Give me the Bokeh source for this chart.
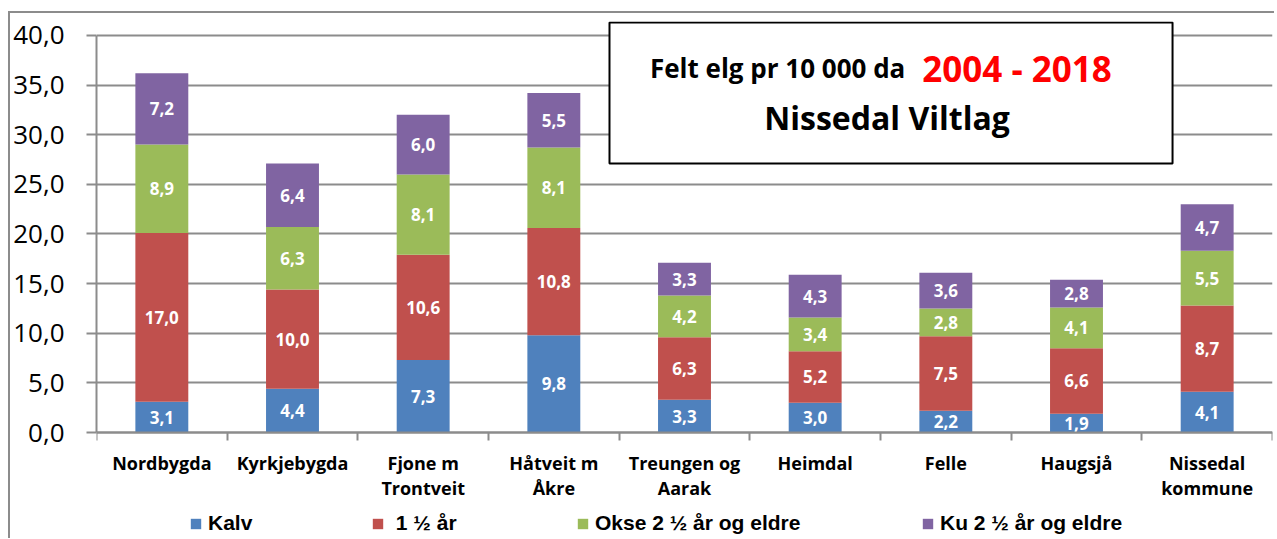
from bokeh.plotting import figure
from bokeh.models import (ColumnDataSource, FixedTicker, Legend, LegendItem,
                          BoxAnnotation, Label, Range1d)
from bokeh.core.properties import value
from bokeh.embed import file_html
from bokeh.resources import INLINE

areas = ["Nordbygda", "Kyrkjebygda", "Fjone m\nTrontveit", "Håtveit m\nÅkre",
         "Treungen og\nAarak", "Heimdal", "Felle", "Haugsjå", "Nissedal\nkommune"]
kalv = [3.1, 4.4, 7.3, 9.8, 3.3, 3.0, 2.2, 1.9, 4.1]
aar1 = [17.0, 10.0, 10.6, 10.8, 6.3, 5.2, 7.5, 6.6, 8.7]
okse = [8.9, 6.3, 8.1, 8.1, 4.2, 3.4, 2.8, 4.1, 5.5]
ku = [7.2, 6.4, 6.0, 5.5, 3.3, 4.3, 3.6, 2.8, 4.7]
series = [kalv, aar1, okse, ku]
series_names = ["Kalv", " 1 ½ år", "Okse 2 ½ år og eldre", "Ku 2 ½ år og eldre"]
colors = ["#4F81BD", "#C0504D", "#9BBB59", "#8064A2"]
y_ticks = [0, 5, 10, 15, 20, 25, 30, 35, 40]

GRID = "#8c8c8c"
xs = [i + 0.5 for i in range(len(areas))]

# frame spans from above the 40-line down to the legend row; x axis sits at y = 0
p = figure(frame_width=1176, frame_height=517, x_range=Range1d(0, len(areas)),
           y_range=Range1d(-10.67, 41.4),
           output_backend="svg", toolbar_location=None,
           min_border_left=86, min_border_right=2, min_border_top=8, min_border_bottom=0,
           styles={"border-left": f"2px solid {GRID}", "border-top": f"2px solid {GRID}",
                   "margin-top": "11px", "margin-left": "8px"})
p.outline_line_color = None
p.background_fill_color = "white"
p.border_fill_color = "white"

# y axis
p.yaxis.bounds = (0, 40)
p.yaxis.ticker = FixedTicker(ticks=y_ticks)
p.yaxis.major_label_overrides = {t: f"{t:.1f}".replace(".", ",") for t in y_ticks}
p.yaxis.major_label_text_font = "Open Sans"
p.yaxis.major_label_text_font_size = "26px"
p.yaxis.major_label_text_color = "black"
p.yaxis.major_tick_out = 10
p.yaxis.major_tick_in = 0
p.yaxis.minor_tick_line_color = None
p.yaxis.major_tick_line_color = GRID
p.yaxis.major_tick_line_width = 2
p.yaxis.axis_line_color = GRID
p.yaxis.axis_line_width = 2
p.yaxis.major_label_standoff = 22

p.ygrid.ticker = FixedTicker(ticks=y_ticks)
p.ygrid.grid_line_color = GRID
p.ygrid.grid_line_width = 2
p.xgrid.grid_line_color = None

# x axis
p.xaxis.fixed_location = 0
p.xaxis.ticker = FixedTicker(ticks=xs, minor_ticks=list(range(len(areas) + 1)))
p.xaxis.major_label_overrides = {x: a for x, a in zip(xs, areas)}
p.xaxis.major_tick_out = 0
p.xaxis.major_tick_in = 0
p.xaxis.minor_tick_out = 8
p.xaxis.minor_tick_in = 0
p.xaxis.minor_tick_line_color = GRID
p.xaxis.minor_tick_line_width = 2
p.xaxis.axis_line_color = GRID
p.xaxis.axis_line_width = 2
p.xaxis.major_label_text_font = "Open Sans"
p.xaxis.major_label_text_font_style = "bold"
p.xaxis.major_label_text_font_size = "18px"
p.xaxis.major_label_text_color = "black"
p.xaxis.major_label_text_line_height = 1.05
p.xaxis.major_label_standoff = 10

renderers = []
bottom = [0.0] * len(areas)
for vals, col in zip(series, colors):
    top = [b + v for b, v in zip(bottom, vals)]
    mid = [b + v / 2 for b, v in zip(bottom, vals)]
    src = ColumnDataSource(dict(x=xs, top=top, bottom=bottom, mid=mid,
                                lab=[f"{v:.1f}".replace(".", ",") for v in vals]))
    r = p.vbar(x="x", top="top", bottom="bottom", width=0.405, source=src,
               fill_color=col, line_color=None)
    p.text(x="x", y="mid", text="lab", source=src, text_align="center",
           text_baseline="middle", text_color="white", text_font=value("Open Sans"),
           text_font_style="bold", text_font_size="17px")
    renderers.append(r)
    bottom = top

# title box
p.add_layout(BoxAnnotation(left=3.926, right=8.235, bottom=27.1, top=41.3,
                           fill_color="white", fill_alpha=1.0,
                           line_color="black", line_alpha=1.0, line_width=2))
p.add_layout(Label(x=6.19, y=36.68, text="Felt elg pr 10 000 da", text_align="right",
                   text_baseline="alphabetic", text_font="Open Sans", text_font_style="bold",
                   text_font_size="26px", text_color="black"))
p.add_layout(Label(x=6.32, y=36.68, text="2004 - 2018", text_align="left",
                   text_baseline="alphabetic", text_font="Open Sans", text_font_style="bold",
                   text_font_size="35px", text_color="#FF0000"))
p.add_layout(Label(x=6.05, y=31.74, text="Nissedal Viltlag", text_align="center",
                   text_baseline="alphabetic", text_font="Open Sans", text_font_style="bold",
                   text_font_size="32px", text_color="black"))

# legend row: four entries placed like the original
leg_x = [93, 275, 480, 825]
for name, r, lx in zip(series_names, renderers, leg_x):
    lg = Legend(items=[LegendItem(label=name, renderers=[r])], location=(lx, 3),
                orientation="horizontal", padding=0, margin=0, spacing=0,
                glyph_width=13, glyph_height=13, label_standoff=6, label_height=20,
                border_line_color=None, background_fill_alpha=0,
                label_text_font="Liberation Sans", label_text_font_style="bold",
                label_text_font_size="21px", label_text_color="black")
    p.add_layout(lg, "center")

open("out.html", "w").write(file_html(p, INLINE))
